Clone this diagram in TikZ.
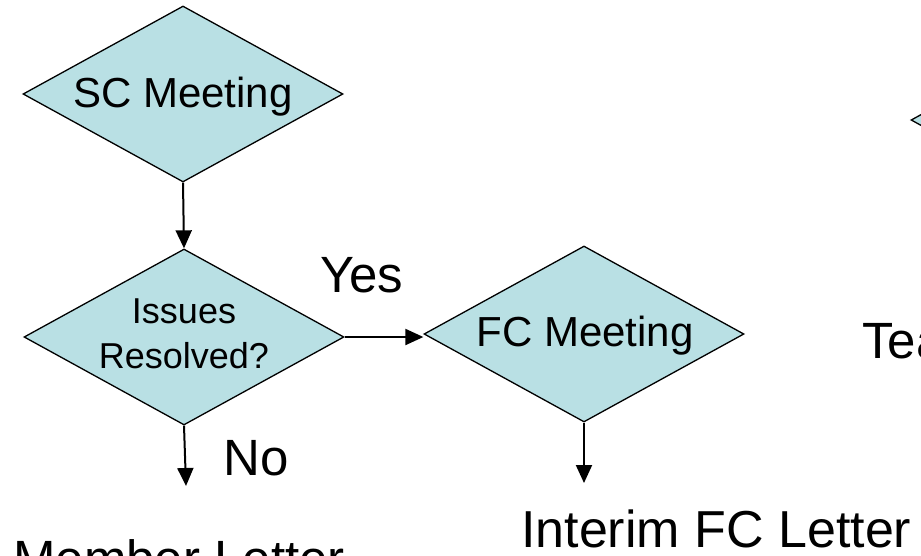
\documentclass[tikz,border=0pt]{standalone}
\usepackage{fontspec}
\setmainfont{Liberation Sans}
\usetikzlibrary{shapes.geometric,arrows.meta}
\definecolor{dfill}{RGB}{185,224,228}
\tikzset{
  decision/.style={shape=diamond, draw=black, fill=dfill, line width=1.3pt,
    minimum width=320pt, minimum height=176pt, aspect=1.82, inner sep=0pt},
  arr/.style={line width=2pt, -{Triangle[length=18pt,width=16pt]}},
  lbl/.style={inner sep=0pt, anchor=base west, font=\fontsize{51}{60}\selectfont}
}
\begin{document}
\begin{tikzpicture}[x=1pt,y=-1pt]
\useasboundingbox (0,0) rectangle (921,555);
\clip (0,0) rectangle (921,555);
\node[decision] (sc) at (183,94) {};
\node[inner sep=0pt, anchor=base, font=\fontsize{42}{50}\selectfont] (sct) at (183,107) {SC Meeting};
\node[decision] (iss) at (184,337) {};
\node[inner sep=0pt, anchor=base, align=center, font=\fontsize{36}{45}\selectfont] (isst) at (184,368) {Issues\\Resolved?};
\node[decision] (fc) at (584,334) {};
\node[inner sep=0pt, anchor=base, font=\fontsize{42}{50}\selectfont] (fct) at (585,346) {FC Meeting};
\node[decision] (rt) at (1071,120) {};
\node[lbl] (yes) at (320,292) {Yes};
\node[lbl] (no) at (223,475) {No};
\node[lbl, font=\fontsize{52}{60}\selectfont] (interim) at (521,547) {Interim FC Letter};
\node[lbl] (member) at (13,576) {Member Letter};
\node[lbl] (tea) at (862,358) {Tea};
\coordinate (noend) at (186,486);
\coordinate (fcend) at (584,483);
\draw[arr] (sc.south) -- (iss.north);
\draw[arr] (iss.east) -- (iss.east -| fc.west);
\draw[arr] (iss.south) -- (noend);
\draw[arr] (fc.south) -- (fcend);
\end{tikzpicture}
\end{document}
